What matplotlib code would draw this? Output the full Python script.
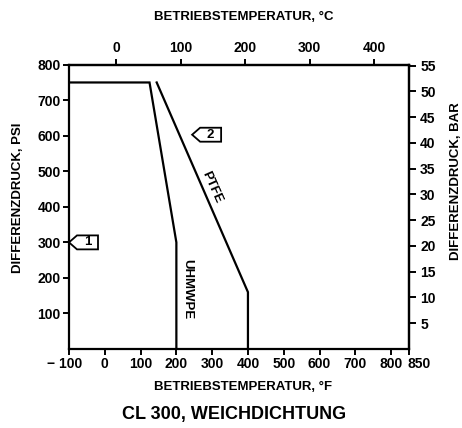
import matplotlib
matplotlib.use("Agg")
import matplotlib.pyplot as plt
from matplotlib.patches import Polygon
from matplotlib.transforms import ScaledTranslation

plt.rcParams['font.family'] = ['Liberation Sans', 'DejaVu Sans']
plt.rcParams['font.weight'] = 'bold'

# Data
uhmwpe_F = [-100, 125, 200, 200]
uhmwpe_psi = [750, 750, 300, 0]
ptfe_F = [145, 400, 400]
ptfe_psi = [750, 160, 0]

x_ticks_F = [-100, 0, 100, 200, 300, 400, 500, 600, 700, 800, 850]
x_ticklabels_F = ['\u2212 100', '0', '100', '200', '300', '400', '500', '600', '700', '800', '850']
y_ticks_psi = [100, 200, 300, 400, 500, 600, 700, 800]
x_ticks_C = [0, 100, 200, 300, 400]
y_ticks_bar = [5, 10, 15, 20, 25, 30, 35, 40, 45, 50, 55]

callout_labels = ['1', '2']
callout_F = [-100, 244]
callout_psi = [300, 603]

fig = plt.figure(figsize=(4.62, 4.28), dpi=100)
ax = fig.add_axes([69/462, 79/428, 340/462, (349-64.7)/428])
ax.set_xlim(-100, 850)
ax.set_ylim(0, 800)

lw = 1.6
ax.plot(uhmwpe_F, uhmwpe_psi, color='black', lw=lw, solid_joinstyle='miter')
ax.plot(ptfe_F, ptfe_psi, color='black', lw=lw, solid_joinstyle='miter')

for s in ax.spines.values():
    s.set_linewidth(1.6)

tfs = 10
ax.set_xticks(x_ticks_F)
ax.set_xticklabels(x_ticklabels_F, fontsize=tfs, fontweight='bold')
ax.set_yticks(y_ticks_psi)
ax.set_yticklabels([str(v) for v in y_ticks_psi], fontsize=tfs, fontweight='bold')
ax.tick_params(axis='both', direction='out', length=4, width=1.4, pad=2)

# shift the last and first bottom labels like the reference
lbls = ax.get_xticklabels()
lbls[-1].set_horizontalalignment('left')
lbls[-1].set_transform(lbls[-1].get_transform() + ScaledTranslation(-1/100, 0, fig.dpi_scale_trans))
lbls[0].set_transform(lbls[0].get_transform() + ScaledTranslation(-4/100, 0, fig.dpi_scale_trans))

F2C = lambda f: (f - 32) * 5 / 9
C2F = lambda c: c * 9 / 5 + 32
psi2bar = lambda p: p / 14.5038
bar2psi = lambda b: b * 14.5038

secx = ax.secondary_xaxis('top', functions=(F2C, C2F))
secx.set_xticks(x_ticks_C)
secx.set_xticklabels([str(v) for v in x_ticks_C], fontsize=tfs, fontweight='bold')
secx.tick_params(direction='out', length=4, width=1.4, pad=3)
secx.spines['top'].set_linewidth(1.6)

secy = ax.secondary_yaxis('right', functions=(psi2bar, bar2psi))
secy.set_yticks(y_ticks_bar)
secy.set_yticklabels([str(v) for v in y_ticks_bar], fontsize=tfs, fontweight='bold')
secy.tick_params(direction='out', length=5, width=1.4, pad=3)
secy.spines['right'].set_linewidth(1.6)

lfs = 9.5
fig.text(244/462, 1 - 17/428, 'BETRIEBSTEMPERATUR, \u00b0C', ha='center', va='center', fontsize=lfs, fontweight='bold')
fig.text(243/462, 1 - 387/428, 'BETRIEBSTEMPERATUR, \u00b0F', ha='center', va='center', fontsize=lfs, fontweight='bold')
fig.text(18/462, 1 - 198/428, 'DIFFERENZDRUCK, PSI', rotation=90, ha='center', va='center', fontsize=lfs, fontweight='bold')
fig.text(456/462, 1 - 181/428, 'DIFFERENZDRUCK, BAR', rotation=90, ha='center', va='center', fontsize=lfs, fontweight='bold')
fig.text(234/462, 1 - 415/428, 'CL 300, WEICHDICHTUNG', ha='center', va='center', fontsize=13, fontweight='bold')

# curve labels
ax.text(300, 455, 'PTFE', rotation=-66, ha='center', va='center', fontsize=9.5, fontweight='bold')
ax.text(230, 168, 'UHMWPE', rotation=-90, ha='center', va='center', fontsize=9.5, fontweight='bold')

# callouts
pxF = 950 / 340
pxP = 800 / 285
for lab, fx, py in zip(callout_labels, callout_F, callout_psi):
    w, h, tip = 29, 14, 8
    verts = [(fx, py), (fx + tip * pxF, py + h / 2 * pxP), (fx + w * pxF, py + h / 2 * pxP),
             (fx + w * pxF, py - h / 2 * pxP), (fx + tip * pxF, py - h / 2 * pxP)]
    ax.add_patch(Polygon(verts, closed=True, fill=False, edgecolor='black', lw=1.3, clip_on=False))
    ax.text(fx + (tip + (w - tip) / 2) * pxF, py, lab, ha='center', va='center', fontsize=9.5, fontweight='bold')

fig.savefig('out.png', dpi=100)
